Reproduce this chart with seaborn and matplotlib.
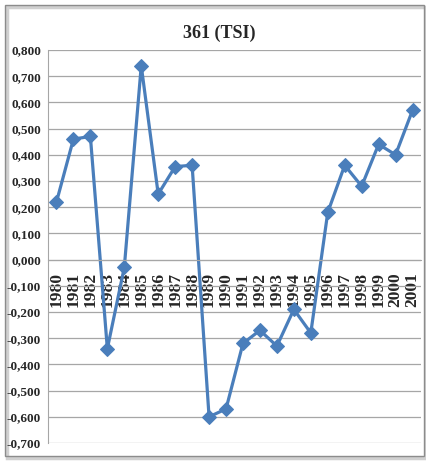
import matplotlib
matplotlib.use("Agg")
import numpy as np
import seaborn as sns
from matplotlib import pyplot as plt
from matplotlib.patches import Rectangle
from matplotlib.ticker import FuncFormatter, MultipleLocator

years = list(range(1980, 2002))
tsi_values = [0.22, 0.46, 0.47, -0.34, -0.03, 0.74, 0.25, 0.355, 0.36, -0.60, -0.57,
              -0.32, -0.27, -0.33, -0.19, -0.28, 0.18, 0.36, 0.28, 0.44, 0.40, 0.57]
title = "361 (TSI)"

sns.set_style("white")
plt.rcParams['font.family'] = ['Liberation Serif', 'DejaVu Serif']

W, H = 427, 461
fig = plt.figure(figsize=(W / 100, H / 100), dpi=100)
ax = fig.add_axes([48 / W, 1 - 443 / H, (421 - 48) / W, (443 - 50) / H])

line_color = "#4a7ebb"
grid_color = "#a6a6a6"

sns.lineplot(x=years, y=tsi_values, ax=ax, color=line_color, linewidth=2.3,
             marker="D", markersize=7.5, markeredgecolor=line_color, markerfacecolor=line_color)

ax.set_xlim(1979.5, 2001.5)
ax.set_ylim(-0.7, 0.8)
ax.yaxis.set_major_locator(MultipleLocator(0.1))
ax.yaxis.set_major_formatter(FuncFormatter(lambda v, p: f"{v:.3f}".replace(".", ",")))
ax.grid(axis="y", color=grid_color, linewidth=0.9)
ax.set_axisbelow(True)

# category axis sits on the zero line
ax.spines["bottom"].set_position(("data", 0))
ax.spines["bottom"].set_color(grid_color)
ax.spines["left"].set_color(grid_color)
ax.spines["top"].set_visible(False)
ax.spines["right"].set_visible(False)

ax.set_xticks(years)
ax.set_xticklabels([str(y) for y in years], rotation=90, fontsize=12.5, fontweight="bold")
ax.set_xticks(np.arange(1979.5, 2002, 1), minor=True)
ax.tick_params(axis="x", which="major", length=0, pad=9)
ax.tick_params(axis="x", which="minor", length=4, color=grid_color, direction="out")
ax.tick_params(axis="y", length=3, color=grid_color, pad=2, labelsize=9.5)
for lbl in ax.get_yticklabels():
    lbl.set_fontweight("bold")
ax.set_xlabel("")
ax.set_ylabel("")

fig.text(219 / W, 1 - 33 / H, title, ha="center", va="center", fontsize=13, fontweight="bold")

# chart frame with a soft shadow
fig.patches.append(Rectangle((7 / W, 3 / H), 419 / W, 451 / H, transform=fig.transFigure,
                             fill=False, edgecolor="#d0d0d0", linewidth=2.5, zorder=-2))
fig.patches.append(Rectangle((5 / W, 5 / H), 419 / W, 451 / H, transform=fig.transFigure,
                             fill=False, edgecolor="#8c8c8c", linewidth=1, zorder=-1))

fig.savefig("out.png", dpi=100)
plt.close(fig)
